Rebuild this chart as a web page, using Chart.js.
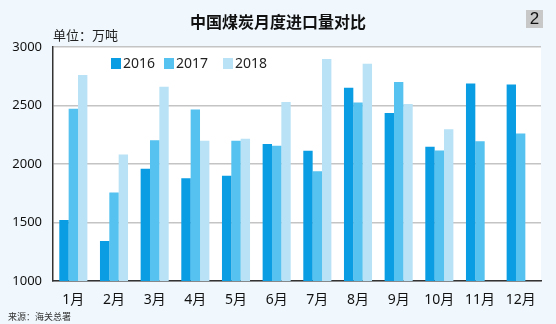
<!DOCTYPE html>
<html>
<head>
<meta charset="utf-8">
<script src="https://cdn.jsdelivr.net/npm/chart.js@4/dist/chart.umd.min.js"></script>
<style>
  html, body { margin: 0; padding: 0; }
  body { width: 556px; height: 324px; background: #f0f8fd; position: relative; overflow: hidden;
         font-family: "Noto Sans CJK SC", "Noto Sans", sans-serif; }
  #wrap { position: absolute; left: 0; top: 0; width: 556px; height: 324px; }
  .title { position: absolute; top: 9px; left: 0; width: 556px; text-align: center;
           font-size: 16px; font-weight: bold; color: #111; }
  .unit { position: absolute; left: 53px; top: 25px; font-size: 13px; color: #222; }
  .page { position: absolute; left: 526px; top: 10px; width: 17px; height: 18px; background: #c8c8c8;
          font-family: "Liberation Sans", sans-serif; font-size: 17px; line-height: 18px; text-align: center; color: #111; }
  .source { position: absolute; left: 8px; top: 310px; font-size: 9px; color: #333; }
</style>
</head>
<body>
<div id="wrap"><canvas id="coalChart" width="556" height="324"></canvas></div>
<div class="title">中国煤炭月度进口量对比</div>
<div class="unit">单位：万吨</div>
<div class="page">2</div>
<div class="source">来源：海关总署</div>
<script>
const months = ['1月', '2月', '3月', '4月', '5月', '6月', '7月', '8月', '9月', '10月', '11月', '12月'];
const seriesNames = ['2016', '2017', '2018'];
const imports2016 = [1522, 1342, 1959, 1879, 1899, 2170, 2113, 2652, 2435, 2147, 2689, 2680];
const imports2017 = [2472, 1756, 2204, 2466, 2198, 2155, 1939, 2526, 2700, 2116, 2195, 2261];
const imports2018 = [2760, 2081, 2660, 2198, 2215, 2529, 2897, 2857, 2512, 2298, null, null];
const yTicks = [1000, 1500, 2000, 2500, 3000];
const colors = ['#0a9de3', '#55c2ef', '#b9e2f6'];

// white plot background
const plotBg = {
    id: 'plotBg',
    beforeDraw(chart) {
        const a = chart.chartArea;
        const ctx = chart.ctx;
        ctx.save();
        ctx.fillStyle = '#ffffff';
        ctx.fillRect(a.left, a.top, a.right - a.left, a.bottom - a.top);
        ctx.restore();
    }
};

// legend sits inside the plot, near the top
const innerLegend = {
    id: 'innerLegend',
    afterDraw(chart) {
        const ctx = chart.ctx;
        const xs = [111, 164, 223];
        ctx.save();
        ctx.font = '14px "Noto Sans", sans-serif';
        ctx.textBaseline = 'middle';
        chart.data.datasets.forEach(function (ds, i) {
            ctx.fillStyle = ds.backgroundColor;
            ctx.fillRect(xs[i], 58, 10, 11);
            ctx.fillStyle = '#222';
            ctx.fillText(ds.label, xs[i] + 12, 64);
        });
        ctx.restore();
    }
};

new Chart(document.getElementById('coalChart'), {
    type: 'bar',
    data: {
        labels: months,
        datasets: [
            { label: seriesNames[0], data: imports2016, backgroundColor: colors[0] },
            { label: seriesNames[1], data: imports2017, backgroundColor: colors[1] },
            { label: seriesNames[2], data: imports2018, backgroundColor: colors[2] }
        ]
    },
    options: {
        responsive: false,
        animation: false,
        devicePixelRatio: 1,
        layout: { padding: { left: 0, right: 15, top: 47, bottom: 0 } },
        datasets: { bar: { categoryPercentage: 0.69, barPercentage: 1.0 } },
        plugins: {
            legend: { display: false },
            tooltip: { enabled: false }
        },
        scales: {
            x: {
                grid: { display: false, drawTicks: false },
                border: { display: true, color: '#333', width: 1.5 },
                ticks: { padding: 11, color: '#111', font: { size: 14, family: '"Noto Sans", "Noto Sans CJK SC", sans-serif' } },
                afterFit(scale) { scale.height = 43; }
            },
            y: {
                min: yTicks[0],
                max: yTicks[yTicks.length - 1],
                afterBuildTicks(scale) { scale.ticks = yTicks.map(v => ({ value: v })); },
                grid: { color: '#c4c4c4', lineWidth: 1.5, drawTicks: false },
                border: { display: true, color: '#333', width: 1.5 },
                ticks: {
                    padding: 11, color: '#111',
                    font: { size: 13, family: '"Noto Sans", sans-serif' },
                    callback: v => String(v)
                },
                afterFit(scale) { scale.width = 53; }
            }
        }
    },
    plugins: [plotBg, innerLegend]
});
</script>
</body>
</html>
